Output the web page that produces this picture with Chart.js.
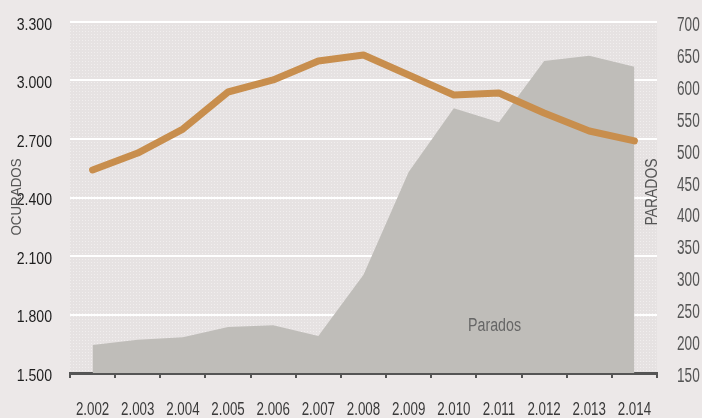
<!DOCTYPE html>
<html>
<head>
<meta charset="utf-8">
<script src="https://cdn.jsdelivr.net/npm/chart.js@4/dist/chart.umd.min.js"></script>
<style>
  html, body { margin: 0; padding: 0; background: #ece8e8; }
  #wrap { width: 702px; height: 418px; }
</style>
</head>
<body>
<div id="wrap"><canvas id="c" width="702" height="418"></canvas></div>
<script>
const years = ['2.002','2.003','2.004','2.005','2.006','2.007','2.008','2.009','2.010','2.011','2.012','2.013','2.014'];
const ocupados = [2541, 2628, 2751, 2941, 3003, 3100, 3131, 3028, 2926, 2936, 2833, 2741, 2690];
const parados = [194, 202, 206, 222, 225, 208, 304, 465, 565, 543, 639, 647, 630];
const leftTicks = { min: 1500, max: 3300, step: 300 };
const rightTicks = { min: 150, max: 700, step: 50 };
const leftTitle = 'OCURADOS';
const rightTitle = 'PARADOS';
const areaLabel = 'Parados';

const FONT = '"Liberation Sans", Arial, sans-serif';

function fmt(v) {
  return String(v).replace(/\B(?=(\d{3})+(?!\d))/g, '.');
}

// dotted texture for plot area
const pc = document.createElement('canvas');
pc.width = 3; pc.height = 3;
const pctx = pc.getContext('2d');
pctx.fillStyle = 'rgb(230,226,226)';
pctx.fillRect(0, 0, 3, 3);
pctx.fillStyle = 'rgb(241,238,238)';
pctx.fillRect(1, 1, 1, 1);

// draw condensed text (Arial-Narrow look) as real canvas text
function narrowText(ctx, text, x, y, opt) {
  ctx.save();
  ctx.font = opt.size + 'px ' + FONT;
  ctx.fillStyle = opt.color;
  ctx.textAlign = opt.align || 'center';
  ctx.textBaseline = opt.baseline || 'alphabetic';
  ctx.translate(x, y);
  if (opt.rotate) ctx.rotate(opt.rotate);
  ctx.scale(opt.sx || 1, opt.sy || 1);
  ctx.fillText(text, 0, 0);
  ctx.restore();
}

const bgPlugin = {
  id: 'bg',
  beforeDraw(chart) {
    const { ctx, chartArea: a } = chart;
    ctx.save();
    ctx.fillStyle = ctx.createPattern(pc, 'repeat');
    ctx.fillRect(a.left, a.top, a.right - a.left, a.bottom - a.top);
    ctx.restore();
  },
  afterDatasetsDraw(chart) {
    const { ctx } = chart;
    const xs = chart.scales.x;
    const x = (xs.getPixelForValue(9) + xs.getPixelForValue(10)) / 2 - 27;
    const y = chart.scales.yR.getPixelForValue(225) + 6;
    narrowText(ctx, areaLabel, x, y, { size: 18, color: '#666', sx: 0.79 });
  },
  afterDraw(chart) {
    const { ctx } = chart;
    const xs = chart.scales.x, yl = chart.scales.yL, yr = chart.scales.yR;
    // x tick labels
    xs.ticks.forEach((t, i) => {
      narrowText(ctx, chart.data.labels[i], xs.getPixelForTick(i), xs.top + 42,
        { size: 18, color: '#3a3a3a', sx: 0.74 });
    });
    // left tick labels
    yl.ticks.forEach((t, i) => {
      narrowText(ctx, fmt(t.value), yl.right - 18, yl.getPixelForTick(i) + 7.5,
        { size: 16, color: '#1e1e1e', sx: 0.88, align: 'right' });
    });
    // right tick labels
    yr.ticks.forEach((t, i) => {
      narrowText(ctx, String(t.value), yr.left + 20, yr.getPixelForTick(i) + 9,
        { size: 20, color: '#555', sx: 0.68, align: 'left' });
    });
    // axis titles
    narrowText(ctx, leftTitle, 17, 197, { size: 15, color: '#555', sx: 0.89, rotate: -Math.PI / 2, baseline: 'middle' });
    narrowText(ctx, rightTitle, 653, 192, { size: 16, color: '#555', sx: 0.87, rotate: -Math.PI / 2, baseline: 'middle' });
  }
};

new Chart(document.getElementById('c'), {
  type: 'line',
  data: {
    labels: years,
    datasets: [
      {
        label: 'Ocupados',
        data: ocupados,
        yAxisID: 'yL',
        borderColor: '#c88e4d',
        borderWidth: 7,
        borderCapStyle: 'round',
        borderJoinStyle: 'round',
        pointRadius: 0,
        tension: 0,
        fill: false,
        order: 0
      },
      {
        label: 'Parados',
        data: parados,
        yAxisID: 'yR',
        borderWidth: 0,
        backgroundColor: '#bfbdb9',
        pointRadius: 0,
        tension: 0,
        fill: 'start',
        order: 1
      }
    ]
  },
  options: {
    responsive: false,
    animation: false,
    devicePixelRatio: 1,
    layout: { padding: { top: 22, left: 0, right: 0, bottom: 0 } },
    plugins: { legend: { display: false }, tooltip: { enabled: false } },
    scales: {
      x: {
        offset: true,
        grid: { offset: true, drawOnChartArea: false, drawTicks: true, tickLength: 5, color: '#555', lineWidth: 2 },
        border: { display: true, color: '#555', width: 3 },
        ticks: { display: false, autoSkip: false, maxRotation: 0 },
        afterFit(s) { s.height = 45; }
      },
      yL: {
        position: 'left',
        min: leftTicks.min, max: leftTicks.max,
        ticks: { display: false, stepSize: leftTicks.step },
        grid: { color: '#ffffff', lineWidth: 2, drawTicks: false },
        border: { display: false },
        afterFit(s) { s.width = 70; }
      },
      yR: {
        position: 'right',
        min: rightTicks.min, max: rightTicks.max,
        ticks: { display: false, stepSize: rightTicks.step },
        grid: { display: false, drawTicks: false },
        border: { display: false },
        afterFit(s) { s.width = 45; }
      }
    }
  },
  plugins: [bgPlugin]
});
</script>
</body>
</html>
